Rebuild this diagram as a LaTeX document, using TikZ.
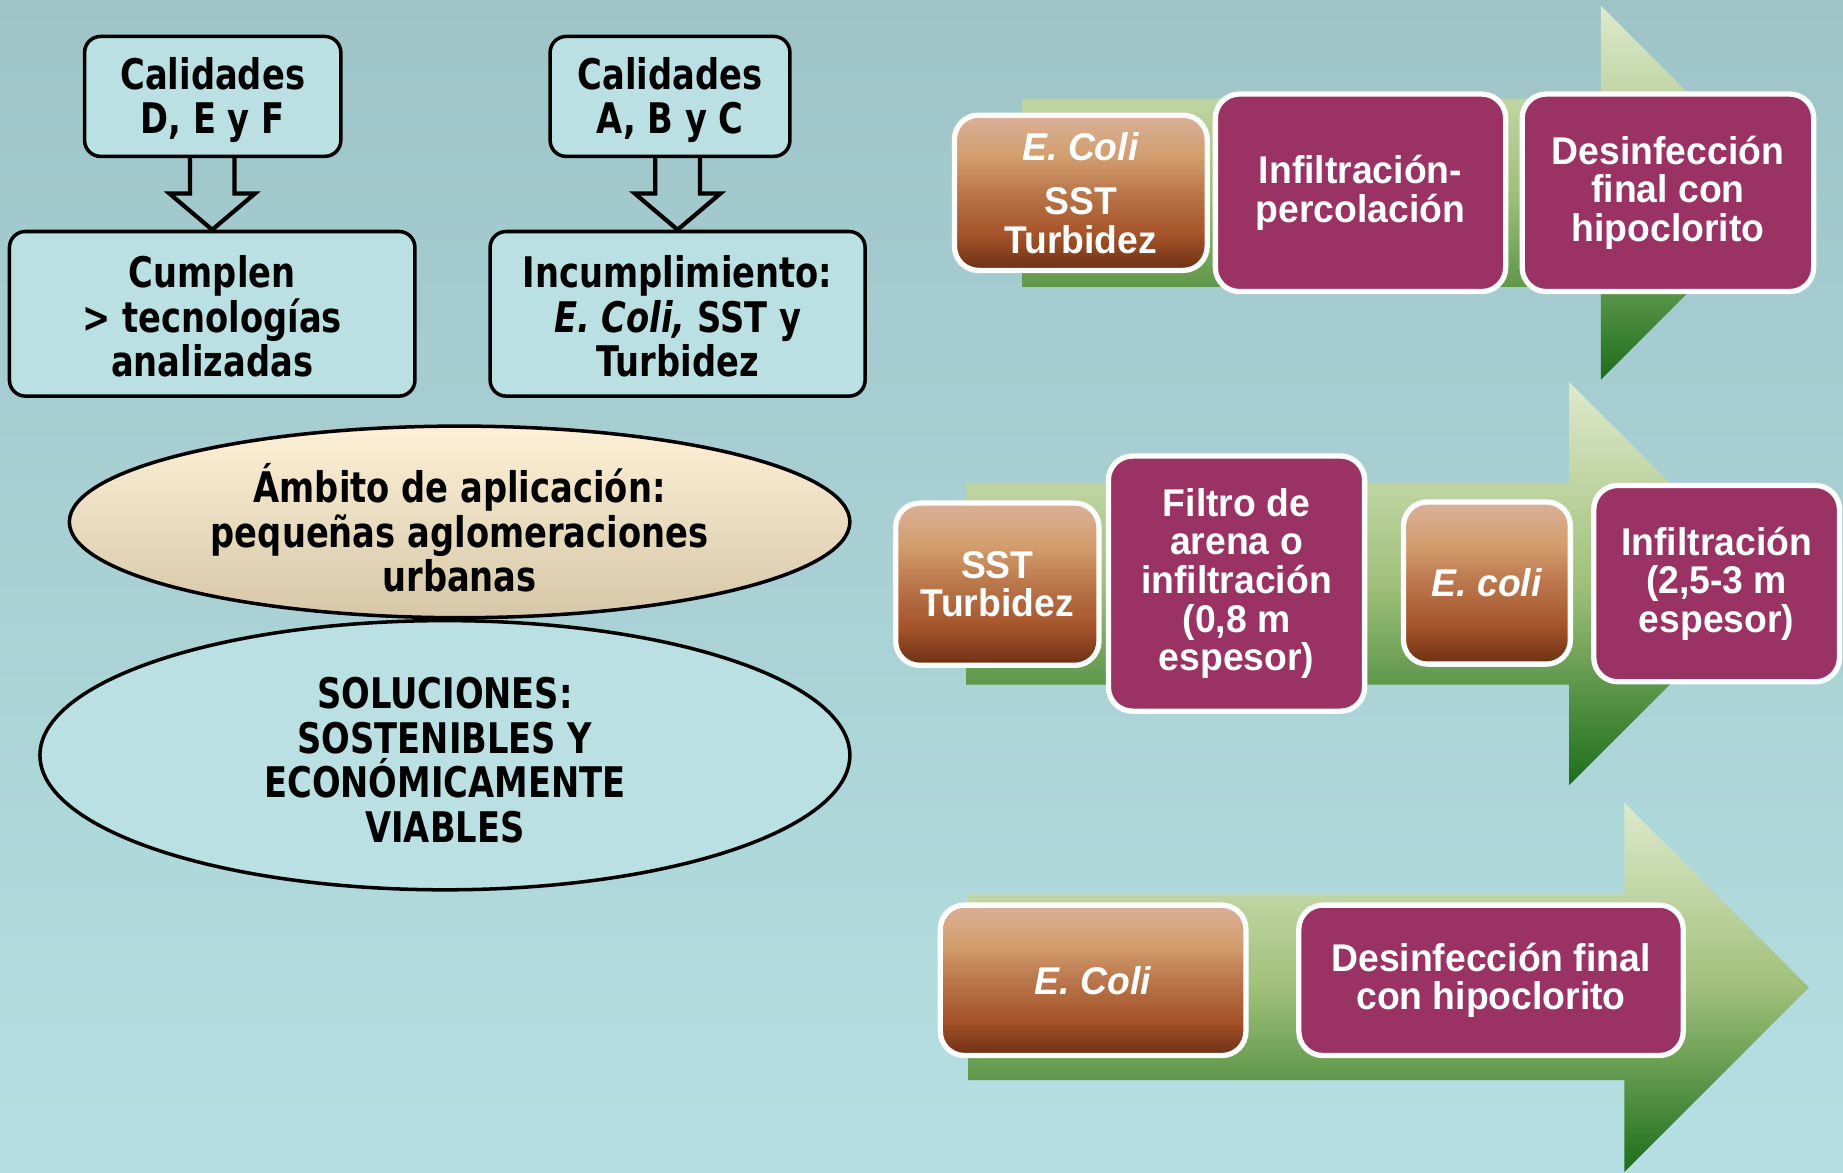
\documentclass[tikz,border=0pt]{standalone}
\usepackage{fontspec}
\setmainfont{Liberation Sans}
\newfontfamily\leftfont{DejaVu Sans}[FakeStretch=0.80]
\newfontfamily\rightfont{Liberation Sans}[FakeStretch=0.965]
\usetikzlibrary{shapes.geometric,calc}
\definecolor{bgtop}{RGB}{158,196,200}
\definecolor{bgbot}{RGB}{181,223,226}
\definecolor{boxfill}{RGB}{186,224,227}
\definecolor{creamtop}{RGB}{253,240,214}
\definecolor{creambot}{RGB}{214,199,168}
\definecolor{morado}{RGB}{154,50,100}
\definecolor{grtop}{RGB}{222,233,204}
\definecolor{grmid}{RGB}{160,192,122}
\definecolor{grbot}{RGB}{28,110,28}
\definecolor{brA}{RGB}{218,176,153}
\definecolor{brB}{RGB}{211,158,110}
\definecolor{brM}{RGB}{186,118,75}
\definecolor{brC}{RGB}{166,84,42}
\definecolor{brD}{RGB}{108,48,20}
\pgfdeclareverticalshading{brownfill}{100bp}{color(0bp)=(brD); color(25bp)=(brD);
  color(37bp)=(brC); color(50bp)=(brM); color(62bp)=(brB); color(75bp)=(brA); color(100bp)=(brA)}
\newcommand\lineup[1]{\rule{0pt}{#1}}
\tikzset{
  lbox/.style={draw,line width=1pt,rounded corners=0.16cm,fill=boxfill,align=center,inner sep=0pt,
    font=\leftfont\bfseries\fontsize{12}{12.7}\selectfont},
  oval/.style={ellipse,draw,line width=1pt,align=center,inner xsep=0pt,inner ysep=-4pt,
    font=\leftfont\bfseries\fontsize{12}{12.7}\selectfont},
  rbox/.style={draw=white,line width=1.5pt,rounded corners=0.24cm,align=center,inner sep=0pt,
    text=white,font=\rightfont\bfseries\fontsize{11}{11}\selectfont},
  brownbox/.style={rbox,shade,shading=brownfill},
  purplebox/.style={rbox,fill=morado},
  hollow/.style={line width=1.2pt,line join=miter}
}
\newcommand\blockarrow[2]{%
  \draw[hollow] ($(#2.north |- #1.south)+(-0.223,0)$) -- ++(0,0.353) -- ++(-0.206,0)
    -- (#2.north) -- ($(#2.north |- #1.south)+(0.429,0.353)$) -- ++(-0.206,0) -- ++(0,-0.353);}
\begin{document}
\begin{tikzpicture}[y=-1cm]
  \useasboundingbox (0,0) rectangle (18.43,11.72);
  \shade[top color=bgtop,bottom color=bgbot] (0,0) rectangle (18.43,11.72);

  \node[lbox,minimum width=2.562cm,minimum height=1.199cm] (calDEF) at (2.127,0.964)
    {\lineup{11.1pt}Calidades\\D, E y F};
  \node[lbox,minimum width=2.398cm,minimum height=1.199cm] (calABC) at (6.700,0.964)
    {\lineup{11.1pt}Calidades\\A, B y C};
  \node[lbox,minimum width=4.055cm,minimum height=1.646cm] (cumplen) at (2.122,3.138)
    {\lineup{10.7pt}Cumplen\\> tecnologías\\analizadas};
  \node[lbox,minimum width=3.750cm,minimum height=1.646cm] (incumpl) at (6.776,3.138)
    {\lineup{10.7pt}Incumplimiento:\\\textit{E. Coli,} SST y\\Turbidez};
  \blockarrow{calDEF}{cumplen}
  \blockarrow{calABC}{incumpl}

  \node[oval,fill=boxfill,minimum width=8.099cm,minimum height=2.692cm] (soluciones) at (4.449,7.552)
    {\lineup{11.8pt}SOLUCIONES:\\SOSTENIBLES Y\\ECONÓMICAMENTE\\VIABLES};
  \node[oval,top color=creamtop,bottom color=creambot,minimum width=7.805cm,minimum height=1.916cm]
    (ambito) at (4.596,5.219) {\lineup{14.5pt}Ámbito de aplicación:\\pequeñas aglomeraciones\\urbanas};

  \foreach \xa/\xh/\cy/\bh/\hh in {10.226/16.009/1.928/0.941/1.869,
      9.662/15.692/5.836/1.011/2.016, 9.685/16.244/9.873/0.929/1.845}
    \shade[top color=grtop,bottom color=grbot,middle color=grmid]
      (\xa,{\cy-\bh}) -- (\xh,{\cy-\bh}) -- (\xh,{\cy-\hh}) -- ({\xh+\hh},\cy)
      -- (\xh,{\cy+\hh}) -- (\xh,{\cy+\bh}) -- (\xa,{\cy+\bh}) -- cycle;

  \node[brownbox,minimum width=2.527cm,minimum height=1.552cm] (coliA) at (10.808,1.928)
    {\textit{E. Coli}\\[4.4pt]SST\\Turbidez};
  \node[purplebox,minimum width=2.903cm,minimum height=1.975cm] (percola) at (13.605,1.928)
    {Infiltración-\\percolación};
  \node[purplebox,minimum width=2.915cm,minimum height=1.975cm] (desinfA) at (16.679,1.928)
    {Desinfección\\final con\\hipoclorito};

  \node[brownbox,minimum width=2.033cm,minimum height=1.622cm] (sstB) at (9.973,5.842) {SST\\Turbidez};
  \node[purplebox,minimum width=2.562cm,minimum height=2.551cm] (filtro) at (12.365,5.836)
    {Filtro de\\arena o\\infiltración\\(0,8 m\\espesor)};
  \node[brownbox,minimum width=1.669cm,minimum height=1.622cm] (coliB) at (14.869,5.830) {\textit{E. coli}};
  \node[purplebox,minimum width=2.457cm,minimum height=1.963cm] (infiltra) at (17.166,5.836)
    {Infiltración\\(2,5-3 m\\espesor)};

  \node[brownbox,minimum width=3.056cm,minimum height=1.504cm] (coliC) at (10.931,9.803) {\textit{E. Coli}};
  \node[purplebox,minimum width=3.844cm,minimum height=1.504cm] (desinfC) at (14.910,9.803)
    {Desinfección final\\con hipoclorito};
\end{tikzpicture}
\end{document}
